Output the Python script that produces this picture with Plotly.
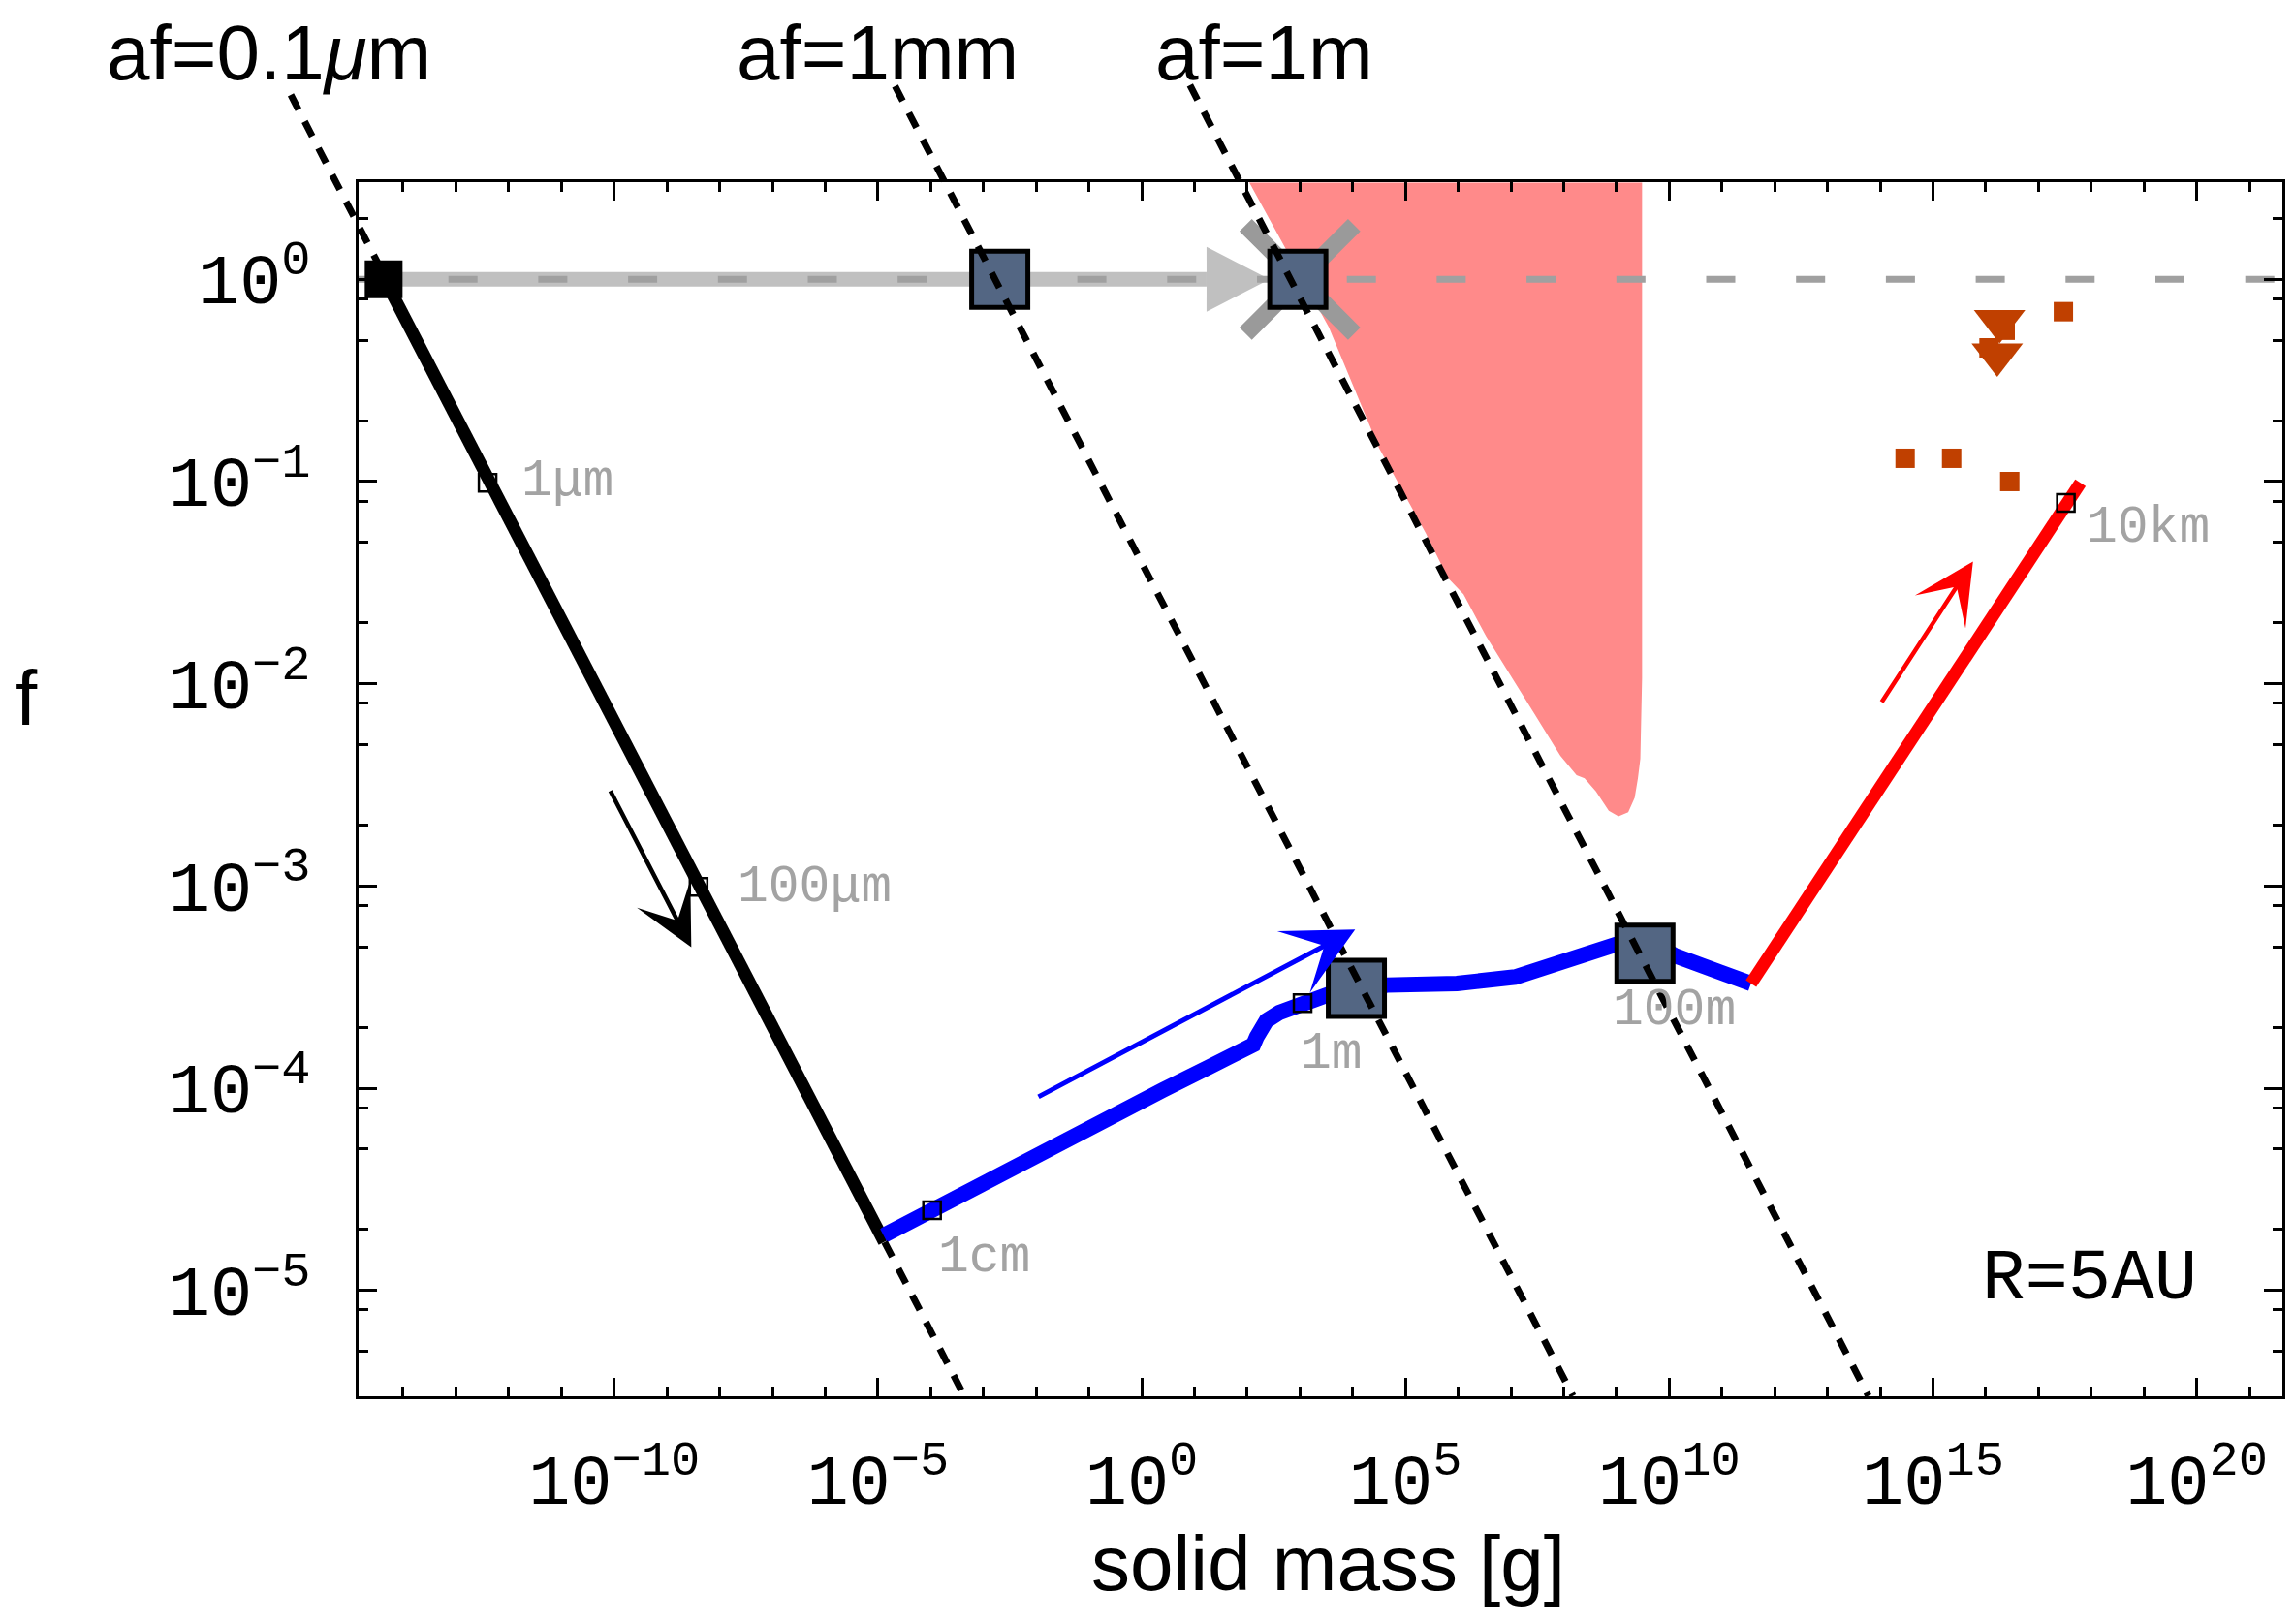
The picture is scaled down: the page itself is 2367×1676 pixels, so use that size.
import plotly.graph_objects as go

W, H = 2367, 1676
OFF = 8                       # page body margin of the html page
FW, FH = W - 2 * OFF, H - 2 * OFF
# plot box (reference pixels) and axis ranges (log10 units)
PL, PR, PT, PB = 370, 2355, 188.3, 1440.7
x_range_log = [-14.845, 21.624]
y_range_log = [-5.522, 0.479]

x_tick_exps = [-10, -5, 0, 5, 10, 15, 20]
y_tick_exps = [0, -1, -2, -3, -4, -5]
y_minor_mults = [2, 5, 8]

# constant-af (fractal) reference lines: log f = slope * (log m - log m0)
af_labels = ["af=0.1<i>μ</i>m", "af=1mm", "af=1m"]
af_logm_at_f1 = [-14.32, -2.78, 2.82]
af_slope = -0.504
af_top_logf = [0.912, 0.955, 0.96]
af_label_logm = [-16.55, -5.0, 2.32]
af_label_logf = 1.12

# compact growth path (gray arrow at f=1)
gray_logm = [-14.37, 1.23]
gray_head_logm = [1.23, 2.425]

# fractal growth (black)
black_logm = [-14.35, -4.88]
black_logf = [0.0, -4.76]

# compression stage (blue)
blue_logm = [-4.893, -3.974, -2.412, -1.066, 0.404, 1.262, 2.118, 2.181, 2.365, 2.609,
             3.037, 3.528, 4.648, 5.977, 7.079, 8.060, 8.979, 9.535, 10.123, 11.551]
blue_logf = [-4.728, -4.600, -4.384, -4.209, -4.009, -3.897, -3.785, -3.746, -3.666, -3.626,
             -3.583, -3.538, -3.490, -3.482, -3.450, -3.362, -3.290, -3.257, -3.346, -3.482]

# late stage (red)
red_logm = [11.551, 17.797]
red_logf = [-3.482, -1.006]

# milestone squares
big_sq_logm = [-2.69, 2.96, 4.07, 9.54]
big_sq_logf = [0.0, 0.0, -3.506, -3.332]
start_logm, start_logf = [-14.37], [0.0]
cross_logm, cross_logf = [3.0], [0.0]

# size marks
mark_logm = [-12.40, -8.40, -3.974, 3.05, 17.52]
mark_logf = [-1.006, -3.004, -4.603, -3.579, -1.105]
size_labels = ["1μm", "100μm", "1cm", "1m", "100m", "10km"]
size_label_logm = [-11.80, -7.69, -3.89, 2.98, 8.89, 17.88]
size_label_logf = [-1.0, -3.01, -4.84, -3.832, -3.614, -1.23]

# fragmentation region boundary
frag_logm = [2.039, 3.546, 4.501, 5.383, 5.806, 6.100, 6.528, 7.018, 7.446, 7.937, 8.244,
             8.396, 8.611, 8.855, 9.039, 9.223, 9.346, 9.407, 9.453, 9.486, 9.486]
frag_logf = [0.479, -0.236, -0.835, -1.254, -1.477, -1.557, -1.765, -1.973, -2.149, -2.356,
             -2.452, -2.468, -2.532, -2.628, -2.656, -2.635, -2.563, -2.468, -2.370, -1.973, 0.479]

# other points (orange)
obs_sq_logm = [17.473, 16.37, 16.063, 14.472, 15.354, 16.456]
obs_sq_logf = [-0.160, -0.252, -0.339, -0.885, -0.885, -1.0]
obs_tri_logm = [16.263, 16.219]
obs_tri_logf = [-0.207, -0.372]

# arrows: tail (logm, logf) -> head (logm, logf)
arrow_tail_logm = [-10.086, -1.984, 14.011]
arrow_tail_logf = [-2.523, -4.046, -2.097]
arrow_head_logm = [-8.538, 4.047, 15.76]
arrow_head_logf = [-3.303, -3.215, -1.395]
arrow_colors = ["black", "#0000ff", "#ff0000"]
arrow_widths = [4.5, 5, 4.5]
arrow_sizes = [2.3, 2.4, 2.3]

r_label = "R=5AU"
r_label_logm, r_label_logf = 15.886, -4.943


def P(v):
    return 10.0 ** float(v)


px_x = (PR - PL) / (x_range_log[1] - x_range_log[0])
px_y = (PB - PT) / (y_range_log[1] - y_range_log[0])

fig = go.Figure()

# fragmentation region
fig.add_trace(go.Scatter(x=[P(v) for v in frag_logm], y=[P(v) for v in frag_logf], fill="toself",
                         fillcolor="rgb(255,138,138)", line=dict(width=0), mode="lines", hoverinfo="skip"))
# gray band and head
fig.add_trace(go.Scatter(x=[P(v) for v in gray_logm], y=[1.0, 1.0], mode="lines",
                         line=dict(color="#c0c0c0", width=15)))
hh = 33.5 / px_y
fig.add_trace(go.Scatter(x=[P(gray_head_logm[0]), P(gray_head_logm[1]), P(gray_head_logm[0])],
                         y=[P(hh), 1.0, P(-hh)], fill="toself", fillcolor="#c0c0c0",
                         line=dict(width=0), mode="lines"))
# dashed f=1 line
fig.add_trace(go.Scatter(x=[P(x_range_log[0]), P(x_range_log[1])], y=[1.0, 1.0], mode="lines",
                         line=dict(color="#a0a0a0", width=7, dash="30px,62.7px")))
# gray cross
fig.add_trace(go.Scatter(x=[P(v) for v in cross_logm], y=[P(v) for v in cross_logf], mode="markers",
                         marker=dict(symbol="x-thin", size=112, color="#9a9a9a",
                                     line=dict(color="#9a9a9a", width=18))))
# black, blue, red paths
fig.add_trace(go.Scatter(x=[P(v) for v in black_logm], y=[P(v) for v in black_logf], mode="lines",
                         line=dict(color="black", width=13)))
fig.add_trace(go.Scatter(x=[P(v) for v in blue_logm], y=[P(v) for v in blue_logf], mode="lines",
                         line=dict(color="#0000ff", width=16)))
fig.add_trace(go.Scatter(x=[P(v) for v in red_logm], y=[P(v) for v in red_logf], mode="lines",
                         line=dict(color="#ff0000", width=13)))
# markers
fig.add_trace(go.Scatter(x=[P(v) for v in start_logm], y=[P(v) for v in start_logf], mode="markers",
                         marker=dict(symbol="square", size=39, color="black", line=dict(width=0))))
fig.add_trace(go.Scatter(x=[P(v) for v in big_sq_logm], y=[P(v) for v in big_sq_logf], mode="markers",
                         marker=dict(symbol="square", size=58, color="#536683",
                                     line=dict(color="black", width=5))))
fig.add_trace(go.Scatter(x=[P(v) for v in mark_logm], y=[P(v) for v in mark_logf], mode="markers",
                         marker=dict(symbol="square-open", size=18, color="black",
                                     line=dict(color="black", width=2.5))))
fig.add_trace(go.Scatter(x=[P(v) for v in obs_sq_logm], y=[P(v) for v in obs_sq_logf], mode="markers",
                         marker=dict(symbol="square", size=20, color="#c04000", line=dict(width=0))))
fig.add_trace(go.Scatter(x=[P(v) for v in obs_tri_logm], y=[P(v) for v in obs_tri_logf], mode="markers",
                         marker=dict(symbol="triangle-down", size=46, color="#c04000", line=dict(width=0))))

# af lines on a full-page overlay axis pair (so they can extend above the frame)
for m0, ytop in zip(af_logm_at_f1, af_top_logf):
    ys = [ytop, y_range_log[0]]
    xs = [m0 + y / af_slope for y in ys]
    fig.add_trace(go.Scatter(x=[P(v) for v in xs], y=[P(v) for v in ys], mode="lines",
                             xaxis="x2", yaxis="y2",
                             line=dict(color="black", width=7, dash="17px,14px")))

pl, pr, pt, pb = PL - OFF, PR - OFF, PT - OFF, PB - OFF
x2_range = [x_range_log[0] - pl / px_x, x_range_log[1] + (FW - pr) / px_x]
y2_range = [y_range_log[0] - (FH - pb) / px_y, y_range_log[1] + pt / px_y]

ann = []
for tm, tf, hm, hf, c, w, s in zip(arrow_tail_logm, arrow_tail_logf, arrow_head_logm, arrow_head_logf,
                                   arrow_colors, arrow_widths, arrow_sizes):
    ann.append(dict(x=hm, y=hf, ax=tm, ay=tf, xref="x", yref="y", axref="x", ayref="y", text="",
                    showarrow=True, arrowhead=3, arrowwidth=w, arrowsize=s, arrowcolor=c))
for t, lx, ly in zip(size_labels, size_label_logm, size_label_logf):
    ann.append(dict(x=lx, y=ly, xref="x", yref="y", text=t, showarrow=False, xanchor="left",
                    yanchor="middle", font=dict(family="Liberation Mono", size=53, color="#a3a3a3")))
ann.append(dict(x=r_label_logm, y=r_label_logf, xref="x", yref="y", text=r_label, showarrow=False,
                xanchor="left", yanchor="middle", font=dict(family="Liberation Mono", size=74, color="black")))
for t, lx in zip(af_labels, af_label_logm):
    ann.append(dict(x=lx, y=af_label_logf, xref="x2", yref="y2", text=t, showarrow=False,
                    xanchor="center", yanchor="middle",
                    font=dict(family="Liberation Sans", size=80, color="black")))
ann.append(dict(x=(1370 - OFF) / FW, y=1 - (1613 - OFF) / FH, xref="paper", yref="paper",
                text="solid mass [g]", showarrow=False, xanchor="center", yanchor="middle",
                font=dict(family="Liberation Sans", size=80, color="black")))
ann.append(dict(x=(27 - OFF) / FW, y=1 - (720 - OFF) / FH, xref="paper", yref="paper", text="f",
                showarrow=False, xanchor="center", yanchor="middle",
                font=dict(family="Liberation Sans", size=80, color="black")))

x_minor = [P(e) for e in range(-14, 22)]
y_minor = [m * P(e) for e in range(-6, 1) for m in y_minor_mults]


def tick_text(e):
    s = str(e).replace("-", "\u2212")
    return f"10<sup>{s}</sup>"


axis_common = dict(type="log", showline=True, linecolor="black", linewidth=3, mirror="allticks",
                   ticks="inside", ticklen=19, tickwidth=2.7, tickcolor="black", showgrid=False,
                   zeroline=False, tickfont=dict(family="Liberation Mono", size=72, color="black"))

fig.update_layout(
    width=FW, height=FH, template="none", showlegend=False,
    margin=dict(l=0, r=0, t=0, b=0),
    paper_bgcolor="white", plot_bgcolor="rgba(0,0,0,0)",
    xaxis=dict(axis_common, range=x_range_log, domain=[pl / FW, pr / FW], anchor="y",
               tickvals=[P(e) for e in x_tick_exps],
               ticktext=[tick_text(e) for e in x_tick_exps],
               ticklabelstandoff=22,
               minor=dict(tickvals=x_minor, ticks="inside", ticklen=10, tickwidth=2.7,
                          tickcolor="black", showgrid=False)),
    yaxis=dict(axis_common, range=y_range_log, domain=[1 - pb / FH, 1 - pt / FH], anchor="x",
               tickvals=[P(e) for e in y_tick_exps],
               ticktext=[tick_text(e) for e in y_tick_exps],
               ticklabelstandoff=32,
               minor=dict(tickvals=y_minor, ticks="inside", ticklen=10, tickwidth=2.7,
                          tickcolor="black", showgrid=False)),
    xaxis2=dict(type="log", range=x2_range, domain=[0, 1], anchor="y2", visible=False),
    yaxis2=dict(type="log", range=y2_range, domain=[0, 1], anchor="x2", visible=False),
    annotations=ann,
)

fig.write_html("out.html")
